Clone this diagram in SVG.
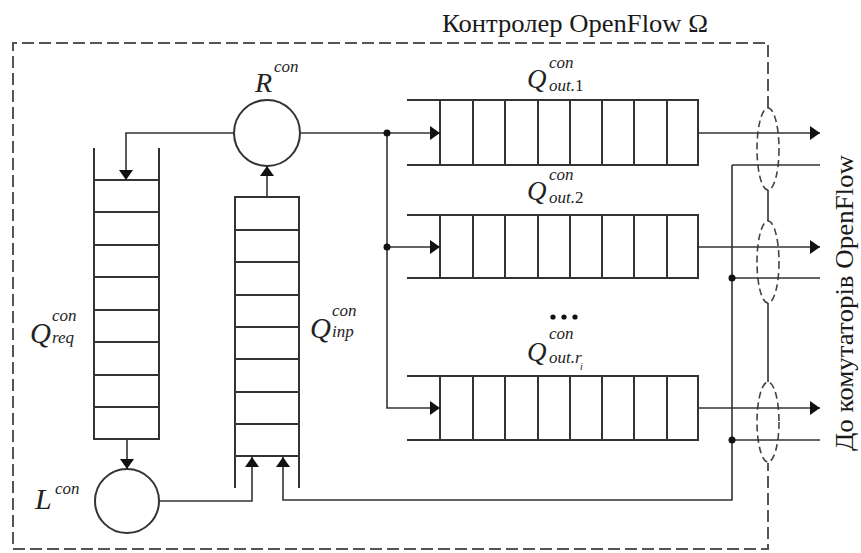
<svg xmlns="http://www.w3.org/2000/svg" width="861" height="553" viewBox="0 0 861 553">
<style>
.ln{fill:none;stroke:#333;stroke-width:1.6}
.q{fill:none;stroke:#333;stroke-width:2}
.box{fill:none;stroke:#555;stroke-width:2;stroke-dasharray:12 5}
.ell{fill:none;stroke:#444;stroke-width:1.6;stroke-dasharray:7 4}
.dot{fill:#111}
.m{font-family:'Liberation Serif','DejaVu Serif',serif;font-style:italic;fill:#222}
.up{font-style:normal}
.t{font-family:'Liberation Serif','DejaVu Serif',serif;fill:#1a1a1a}
</style>
<defs>
<marker id="arr" markerUnits="userSpaceOnUse" markerWidth="10" markerHeight="14" refX="10" refY="7" orient="auto">
<path d="M0,0 L10,7 L0,14 z" fill="#111"/>
</marker>
</defs>
<rect width="861" height="553" fill="#fff"/>

<g id="boundary">
<path class="box" d="M768,108 V43 H13 V549 H768 V463"/>
<ellipse class="ell" cx="768" cy="149" rx="11" ry="41"/>
<ellipse class="ell" cx="768" cy="262" rx="11" ry="41"/>
<ellipse class="ell" cx="768" cy="422" rx="11" ry="40"/>
<path class="ln" d="M768,190 V221 M768,303 V382"/>
<text class="t" x="442" y="32" font-size="26" textLength="266" lengthAdjust="spacingAndGlyphs">Контролер OpenFlow Ω</text>
</g>

<g id="R">
<circle class="q" cx="267" cy="133" r="33"/>
<text class="m" x="255" y="92" font-size="28">R</text>
<text class="m" x="274" y="72" font-size="17">con</text>
</g>

<g id="L">
<circle class="q" cx="127" cy="501" r="32"/>
<text class="m" x="35" y="509" font-size="30">L</text>
<text class="m" x="55" y="494" font-size="17">con</text>
</g>

<g id="Qreq">
<path class="q" d="M94,148 V439 H159 V148 M94,180 H159 M94,212 H159 M94,245 H159 M94,277 H159 M94,310 H159 M94,342 H159 M94,375 H159 M94,407 H159"/>
<text class="m" x="30" y="343" font-size="29">Q</text>
<text class="m" x="52" y="321" font-size="17">con</text>
<text class="m" x="52" y="343" font-size="17">req</text>
</g>

<g id="Qinp">
<path class="q" d="M235,488 V197 H299 V488 M235,230 H299 M235,262 H299 M235,295 H299 M235,327 H299 M235,359 H299 M235,392 H299 M235,424 H299 M235,456 H299"/>
<text class="m" x="310" y="338" font-size="29">Q</text>
<text class="m" x="332" y="316" font-size="17">con</text>
<text class="m" x="332" y="337" font-size="17">inp</text>
</g>

<g id="Qout1">
<path class="q" d="M407,100 H698 V165 H407 M440,100 V165 M473,100 V165 M505,100 V165 M538,100 V165 M570,100 V165 M602,100 V165 M634,100 V165 M667,100 V165"/>
<text class="m" x="527" y="88" font-size="27">Q</text>
<text class="m" x="549" y="68" font-size="17">con</text>
<text class="m" x="549" y="91" font-size="17">out.<tspan class="up">1</tspan></text>
</g>

<g id="Qout2">
<path class="q" d="M407,215 H698 V278 H407 M440,215 V278 M473,215 V278 M505,215 V278 M538,215 V278 M570,215 V278 M602,215 V278 M634,215 V278 M667,215 V278"/>
<text class="m" x="527" y="200" font-size="27">Q</text>
<text class="m" x="549" y="180" font-size="17">con</text>
<text class="m" x="549" y="203" font-size="17">out.<tspan class="up">2</tspan></text>
</g>

<g id="Qout3">
<path class="q" d="M407,376 H698 V440 H407 M440,376 V440 M473,376 V440 M505,376 V440 M538,376 V440 M570,376 V440 M602,376 V440 M634,376 V440 M667,376 V440"/>
<circle class="dot" cx="553" cy="317" r="2.6"/>
<circle class="dot" cx="564" cy="317" r="2.6"/>
<circle class="dot" cx="575" cy="317" r="2.6"/>
<text class="m" x="527" y="361" font-size="27">Q</text>
<text class="m" x="549" y="339" font-size="17">con</text>
<text class="m" x="549" y="363" font-size="17">out.r</text>
<text class="m" x="580" y="370" font-size="10">i</text>
</g>

<g id="connectors">
<path class="ln" d="M234,133 H126 V180" marker-end="url(#arr)"/>
<path class="ln" d="M127,439 V469" marker-end="url(#arr)"/>
<path class="ln" d="M159,501 H252 V457" marker-end="url(#arr)"/>
<path class="ln" d="M267,197 V166" marker-end="url(#arr)"/>
<path class="ln" d="M732,165 V500 H283 V457" marker-end="url(#arr)"/>
<path class="ln" d="M732,165 H820 M732,278 H820 M732,440 H820"/>
<path class="ln" d="M300,133 H440" marker-end="url(#arr)"/>
<path class="ln" d="M387,133 V247 H440" marker-end="url(#arr)"/>
<path class="ln" d="M387,247 V408 H440" marker-end="url(#arr)"/>
<path class="ln" d="M698,133 H820" marker-end="url(#arr)"/>
<path class="ln" d="M698,247 H820" marker-end="url(#arr)"/>
<path class="ln" d="M698,408 H820" marker-end="url(#arr)"/>
<circle class="dot" cx="387" cy="133" r="3.5"/>
<circle class="dot" cx="387" cy="247" r="3.5"/>
<circle class="dot" cx="732" cy="278" r="3.5"/>
<circle class="dot" cx="732" cy="440" r="3.5"/>
</g>

<g id="side-label">
<text class="t" transform="translate(853,451) rotate(-90)" font-size="26" textLength="296" lengthAdjust="spacingAndGlyphs">До комутаторів OpenFlow</text>
</g>
</svg>
